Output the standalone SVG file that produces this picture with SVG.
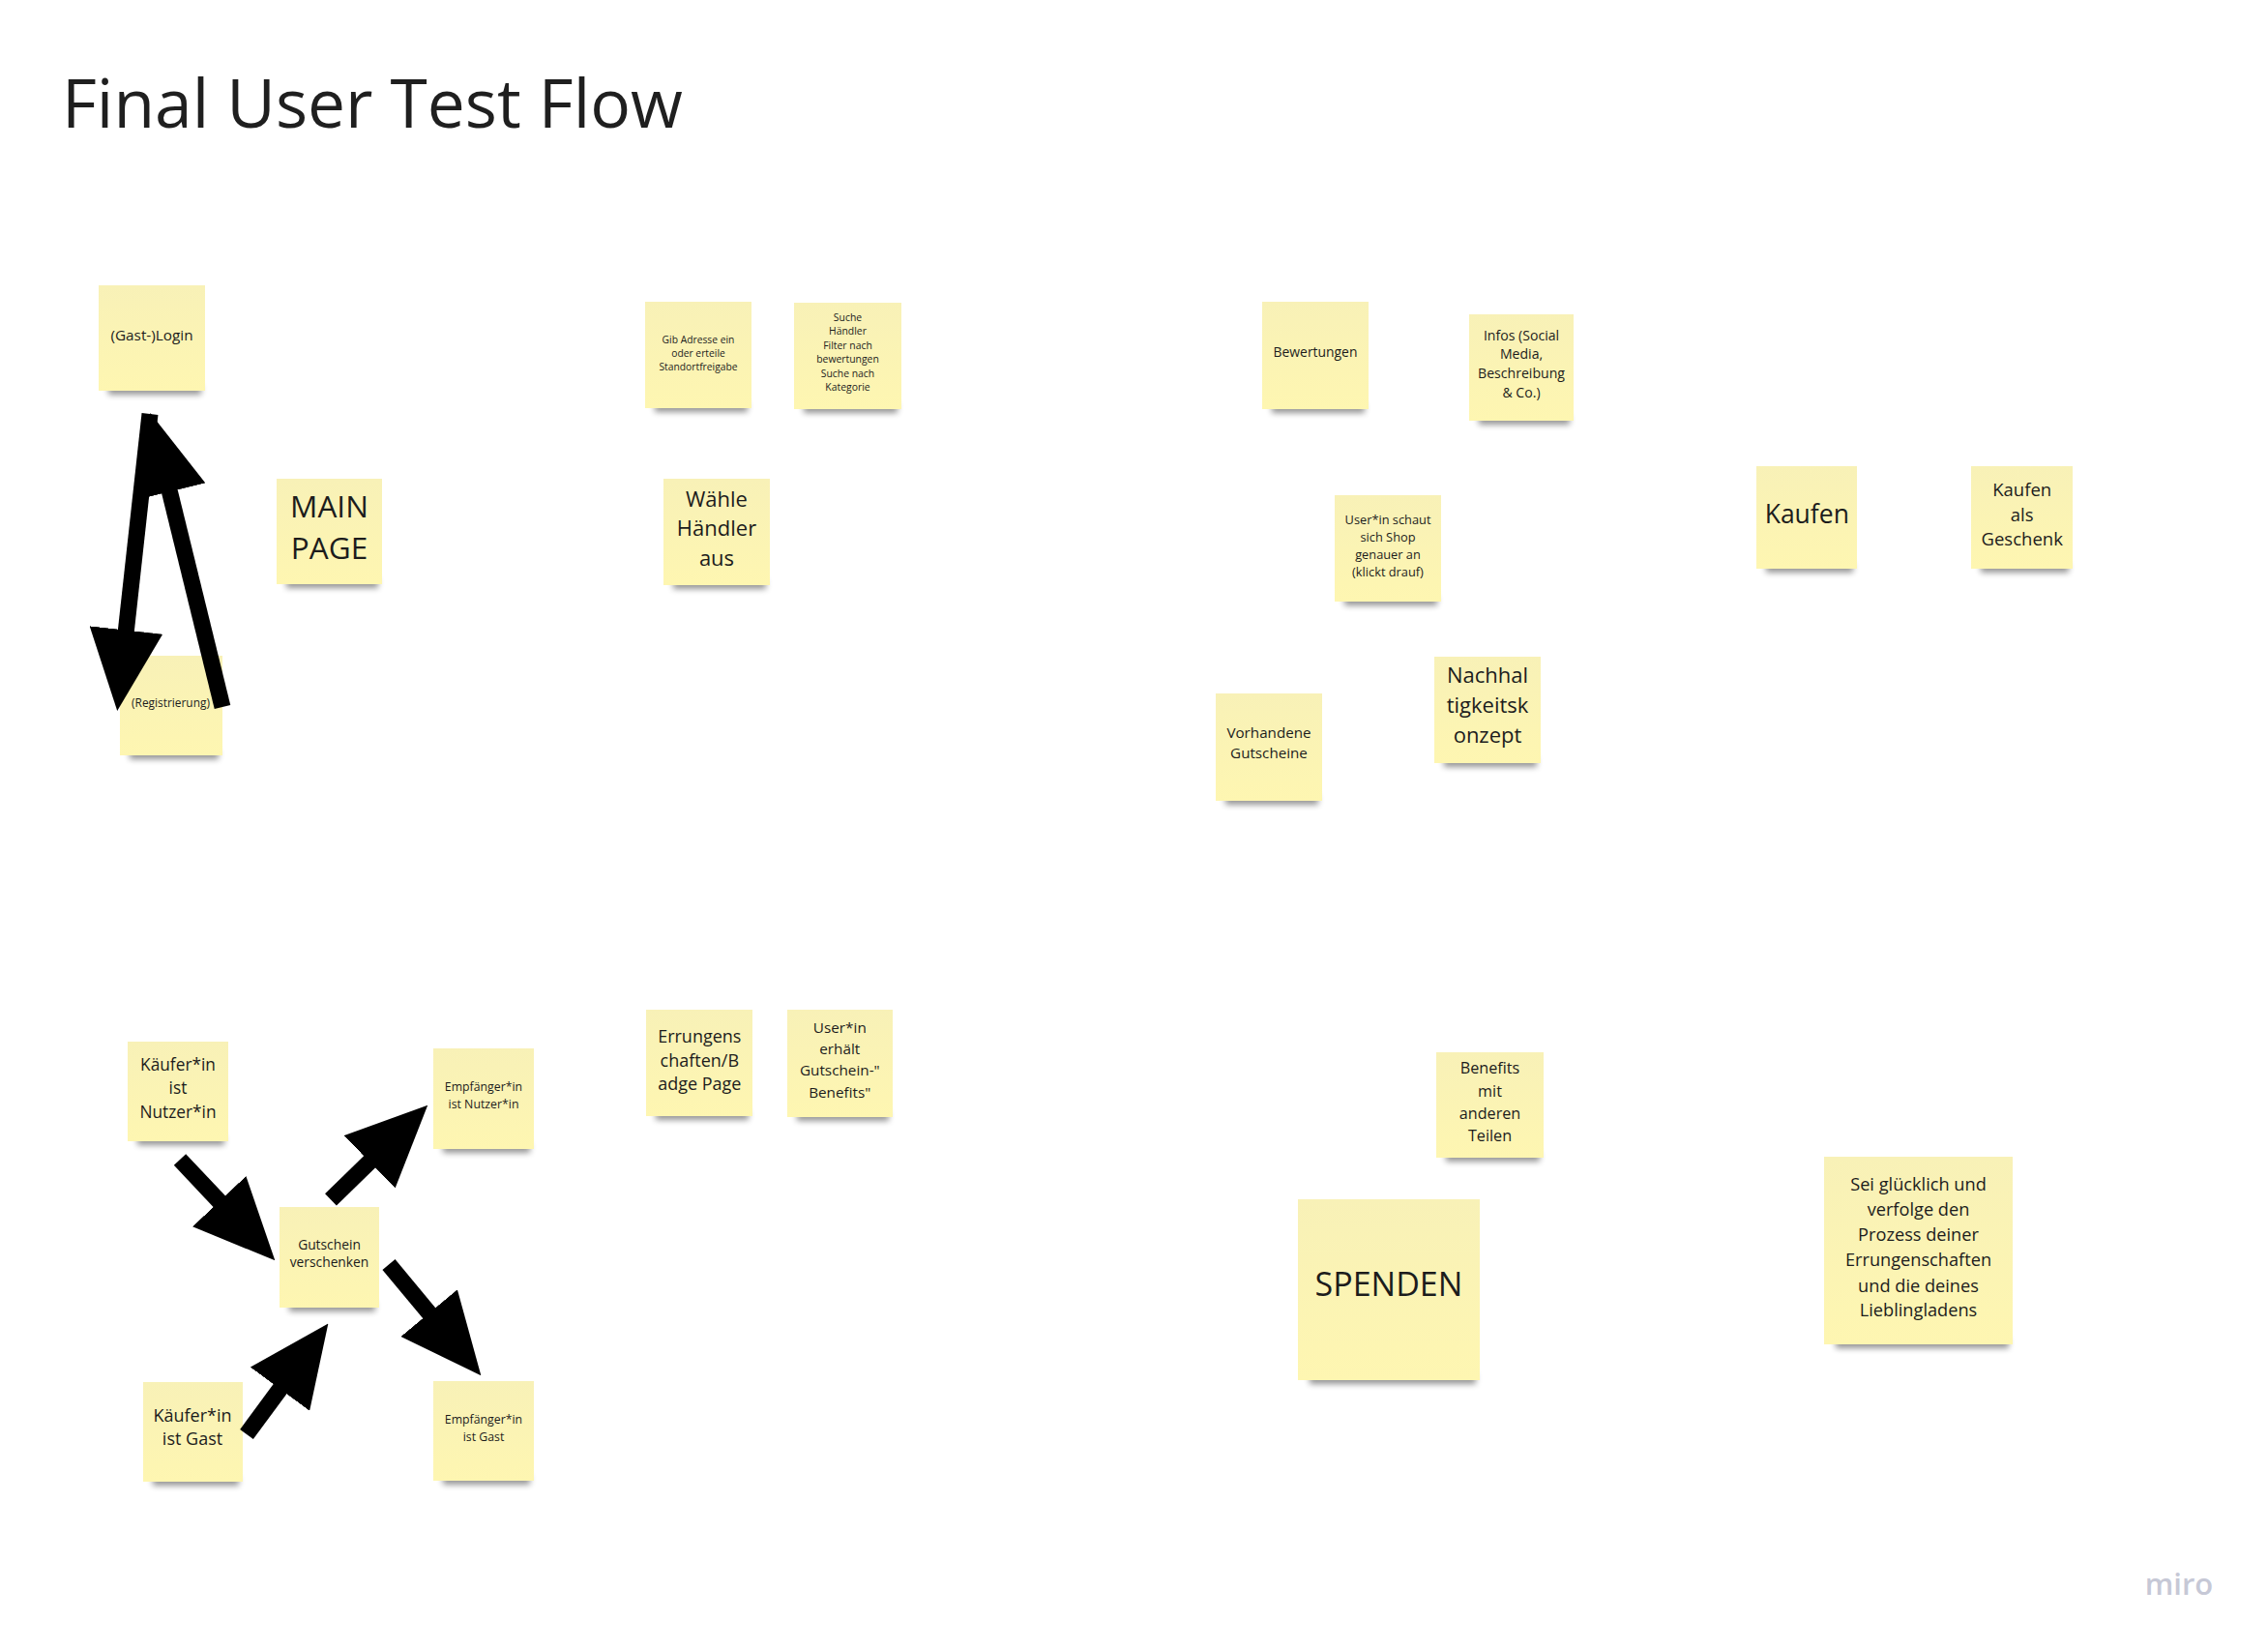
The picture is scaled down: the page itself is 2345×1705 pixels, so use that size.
<svg xmlns="http://www.w3.org/2000/svg" width="2345" height="1705" viewBox="0 0 2345 1705">
<defs>
<linearGradient id="paper" x1="0" y1="0" x2="0" y2="1">
<stop offset="0" stop-color="#F8F1B7"/>
<stop offset="1" stop-color="#FEF6B1"/>
</linearGradient>
<filter id="blur" x="-20%" y="-200%" width="140%" height="500%">
<feGaussianBlur stdDeviation="3"/>
</filter>
<marker id="head" markerUnits="userSpaceOnUse" markerWidth="84" markerHeight="76" viewBox="0 0 84 76" refX="1" refY="38" orient="auto">
<path d="M0,0 L84,38 L0,76 Z" fill="#000"/>
</marker>
</defs>
<style>
.note{fill:url(#paper)}
.sh{fill:#000;opacity:.42;filter:url(#blur)}
.t{font-family:"Open Sans","Noto Sans","Liberation Sans",sans-serif;fill:#1c1c1c;text-anchor:middle}
.conn{stroke:#000;stroke-width:17;fill:none;marker-end:url(#head)}
</style>
<rect width="2345" height="1705" fill="#fff"/>
<text x="64" y="132" font-family="Open Sans, Noto Sans, Liberation Sans, sans-serif" font-size="69.5" fill="#1f1f1f">Final User Test Flow</text>

<g id="nodes">
<g id="login"><rect class="sh" x="112" y="398" width="96" height="10"/><rect class="note" x="102" y="295" width="110" height="109"/><text class="t" x="157" y="351.5" font-size="15.3">(Gast-)Login</text></g>
<g id="main"><rect class="sh" x="296" y="598" width="95" height="10"/><rect class="note" x="286" y="495" width="109" height="109"/><text class="t" x="340.5" y="535" font-size="31.5">MAIN</text><text class="t" x="340.5" y="578" font-size="31.5">PAGE</text></g>
<g id="registrierung"><rect class="sh" x="134" y="775" width="92" height="10"/><rect class="note" x="124" y="678" width="106" height="103"/><text class="t" x="176.5" y="731" font-size="11.9">(Registrierung)</text></g>
<g id="adresse"><rect class="sh" x="677" y="416" width="96" height="10"/><rect class="note" x="667" y="312" width="110" height="110"/><text class="t" font-size="10.3"><tspan x="722" y="354.6">Gib Adresse ein</tspan><tspan x="722" y="368.6">oder erteile</tspan><tspan x="722" y="382.6">Standortfreigabe</tspan></text></g>
<g id="suche"><rect class="sh" x="831" y="417" width="97" height="10"/><rect class="note" x="821" y="313" width="111" height="110"/><text class="t" font-size="10.4"><tspan x="876.5" y="331.7">Suche</tspan><tspan x="876.5" y="346.2">Händler</tspan><tspan x="876.5" y="360.8">Filter nach</tspan><tspan x="876.5" y="375.3">bewertungen</tspan><tspan x="876.5" y="389.9">Suche nach</tspan><tspan x="876.5" y="404.4">Kategorie</tspan></text></g>
<g id="waehle"><rect class="sh" x="696" y="599" width="96" height="10"/><rect class="note" x="686" y="495" width="110" height="110"/><text class="t" font-size="22"><tspan x="741" y="524">Wähle</tspan><tspan x="741" y="554">Händler</tspan><tspan x="741" y="584.5">aus</tspan></text></g>
<g id="bewertungen"><rect class="sh" x="1315" y="417" width="96" height="10"/><rect class="note" x="1305" y="312" width="110" height="111"/><text class="t" x="1360" y="368.6" font-size="13.9">Bewertungen</text></g>
<g id="infos"><rect class="sh" x="1529" y="429" width="94" height="10"/><rect class="note" x="1519" y="325" width="108" height="110"/><text class="t" font-size="14.1"><tspan x="1573" y="351.7">Infos (Social</tspan><tspan x="1573" y="371.4">Media,</tspan><tspan x="1573" y="391">Beschreibung</tspan><tspan x="1573" y="410.7">&amp; Co.)</tspan></text></g>
<g id="schaut"><rect class="sh" x="1390" y="616" width="96" height="10"/><rect class="note" x="1380" y="512" width="110" height="110"/><text class="t" font-size="12.8"><tspan x="1435" y="542.4">User*in schaut</tspan><tspan x="1435" y="560.3">sich Shop</tspan><tspan x="1435" y="578.2">genauer an</tspan><tspan x="1435" y="596.1">(klickt drauf)</tspan></text></g>
<g id="vorhandene"><rect class="sh" x="1267" y="822" width="96" height="10"/><rect class="note" x="1257" y="717" width="110" height="111"/><text class="t" font-size="15.2"><tspan x="1312" y="763">Vorhandene</tspan><tspan x="1312" y="784.4">Gutscheine</tspan></text></g>
<g id="nachhaltigkeit"><rect class="sh" x="1493" y="783" width="96" height="10"/><rect class="note" x="1483" y="679" width="110" height="110"/><text class="t" font-size="22"><tspan x="1538" y="706.3">Nachhal</tspan><tspan x="1538" y="737.2">tigkeitsk</tspan><tspan x="1538" y="768">onzept</tspan></text></g>
<g id="kaufen"><rect class="sh" x="1826" y="582" width="90" height="10"/><rect class="note" x="1816" y="482" width="104" height="106"/><text class="t" x="1868.3" y="540.5" font-size="26.5">Kaufen</text></g>
<g id="geschenk"><rect class="sh" x="2048" y="582" width="91" height="10"/><rect class="note" x="2038" y="482" width="105" height="106"/><text class="t" font-size="18.5"><tspan x="2090.7" y="513.2">Kaufen</tspan><tspan x="2090.7" y="539.2">als</tspan><tspan x="2090.7" y="564.2">Geschenk</tspan></text></g>
<g id="kaeufer-nutzer"><rect class="sh" x="142" y="1174" width="90" height="10"/><rect class="note" x="132" y="1077" width="104" height="103"/><text class="t" font-size="17.3"><tspan x="184" y="1107.4">Käufer*in</tspan><tspan x="184" y="1130.8">ist</tspan><tspan x="184" y="1155.6">Nutzer*in</tspan></text></g>
<g id="empf-nutzer"><rect class="sh" x="458" y="1182" width="90" height="10"/><rect class="note" x="448" y="1084" width="104" height="104"/><text class="t" font-size="12.3"><tspan x="500" y="1128.4">Empfänger*in</tspan><tspan x="500" y="1145.7">ist Nutzer*in</tspan></text></g>
<g id="gutschein"><rect class="sh" x="299" y="1346" width="89" height="10"/><rect class="note" x="289" y="1248" width="103" height="104"/><text class="t" font-size="13.8"><tspan x="340.5" y="1291.5">Gutschein</tspan><tspan x="340.5" y="1310.4">verschenken</tspan></text></g>
<g id="kaeufer-gast"><rect class="sh" x="158" y="1526" width="89" height="10"/><rect class="note" x="148" y="1429" width="103" height="103"/><text class="t" font-size="18"><tspan x="199" y="1469.5">Käufer*in</tspan><tspan x="199" y="1494.3">ist Gast</tspan></text></g>
<g id="empf-gast"><rect class="sh" x="458" y="1525" width="90" height="10"/><rect class="note" x="448" y="1428" width="104" height="103"/><text class="t" font-size="12.3"><tspan x="500" y="1472.4">Empfänger*in</tspan><tspan x="500" y="1489.7">ist Gast</tspan></text></g>
<g id="errungenschaften"><rect class="sh" x="678" y="1148" width="96" height="10"/><rect class="note" x="668" y="1044" width="110" height="110"/><text class="t" font-size="18"><tspan x="723.3" y="1077.7">Errungens</tspan><tspan x="723.3" y="1102.7">chaften/B</tspan><tspan x="723.3" y="1126.7">adge Page</tspan></text></g>
<g id="benefits-erhalten"><rect class="sh" x="824" y="1149" width="95" height="10"/><rect class="note" x="814" y="1044" width="109" height="111"/><text class="t" font-size="15.3"><tspan x="868.3" y="1068.3">User*in</tspan><tspan x="868.3" y="1090">erhält</tspan><tspan x="868.3" y="1112.3">Gutschein-"</tspan><tspan x="868.3" y="1135">Benefits"</tspan></text></g>
<g id="benefits-teilen"><rect class="sh" x="1495" y="1191" width="97" height="10"/><rect class="note" x="1485" y="1088" width="111" height="109"/><text class="t" font-size="16.2"><tspan x="1540.5" y="1110.3">Benefits</tspan><tspan x="1540.5" y="1133.6">mit</tspan><tspan x="1540.5" y="1157">anderen</tspan><tspan x="1540.5" y="1180.3">Teilen</tspan></text></g>
<g id="spenden"><rect class="sh" x="1354" y="1420" width="172" height="11"/><rect class="note" x="1342" y="1240" width="188" height="187"/><text class="t" x="1436" y="1339.8" font-size="34">SPENDEN</text></g>
<g id="gluecklich"><rect class="sh" x="1898" y="1383" width="179" height="11"/><rect class="note" x="1886" y="1196" width="195" height="194"/><text class="t" font-size="18.2"><tspan x="1983.5" y="1231">Sei glücklich und</tspan><tspan x="1983.5" y="1257">verfolge den</tspan><tspan x="1983.5" y="1283">Prozess deiner</tspan><tspan x="1983.5" y="1309.3">Errungenschaften</tspan><tspan x="1983.5" y="1335.6">und die deines</tspan><tspan x="1983.5" y="1361">Lieblingladens</tspan></text></g>
</g>

<g id="connectors">
<line class="conn" x1="155" y1="428" x2="130.3" y2="652.5"/>
<line class="conn" x1="230" y1="731" x2="175.2" y2="507.5"/>
<line class="conn" x1="186" y1="1199" x2="227.4" y2="1242.9"/>
<line class="conn" x1="342" y1="1240.4" x2="382.8" y2="1200.6"/>
<line class="conn" x1="402" y1="1307.5" x2="444.3" y2="1358.4"/>
<line class="conn" x1="255" y1="1483" x2="290.1" y2="1435.4"/>
</g>

<text x="2253" y="1649" font-family="Open Sans, Noto Sans, Liberation Sans, sans-serif" font-size="31" font-weight="600" fill="#c6c8d6" text-anchor="middle">miro</text>
</svg>
